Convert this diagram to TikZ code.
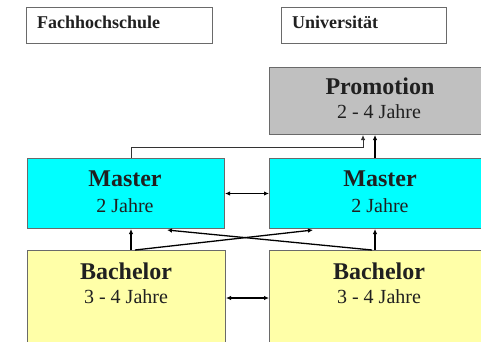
\documentclass[tikz,border=0pt]{standalone}
\usepackage{fontspec}
\setmainfont{Liberation Serif}
\usetikzlibrary{arrows.meta,calc}
\definecolor{cyanbox}{HTML}{00FFFF}
\definecolor{yellowbox}{HTML}{FFFFA8}
\definecolor{graybox}{HTML}{C0C0C0}
\definecolor{edge}{HTML}{6A6A6A}
\definecolor{txt}{HTML}{202020}
\begin{document}
\begin{tikzpicture}[x=1pt,y=-1pt,
  box/.style={draw=edge, line width=1pt, inner sep=0pt, anchor=north west},
  head/.style={anchor=base west, inner sep=0pt, text=txt, font=\fontsize{18}{20}\selectfont\bfseries},
  title/.style={anchor=base, inner sep=0pt, text=txt, font=\fontsize{24}{28}\selectfont\bfseries},
  sub/.style={anchor=base, inner sep=0pt, text=txt, font=\fontsize{20}{24}\selectfont},
  arr/.style={line width=1.3pt, -{Latex[length=5pt,width=4.5pt]}},
  darr/.style={line width=1.2pt, {Latex[length=5pt,width=4.5pt]}-{Latex[length=5pt,width=4.5pt]}},
  thinarr/.style={line width=0.8pt, draw=black!80, -{Latex[length=5pt,width=4.5pt]}}]
\useasboundingbox (0,0) rectangle (481,341);
\clip (0,0) rectangle (481,341);
% header boxes
\node[box, fill=white, minimum width=186pt, minimum height=36pt] (fh) at (26,7) {};
\node[box, fill=white, minimum width=165pt, minimum height=36pt] (uni) at (281,7) {};
\node[head] (fht) at (37,28) {Fachhochschule};
\node[head] (unit) at (292,28) {Universität};
% promotion
\node[box, fill=graybox, minimum width=221pt, minimum height=67pt] (pr) at (269,67) {};
\node[title] (prt) at (380,94) {Promotion};
\node[sub] (prs) at (379,118) {2 - 4 Jahre};
% masters
\node[box, fill=cyanbox, minimum width=197pt, minimum height=70pt] (ml) at (27,158) {};
\node[box, fill=cyanbox, minimum width=221pt, minimum height=70pt] (mr) at (269,158) {};
\node[title] (mlt) at (125,186) {Master};
\node[sub] (mls) at (125,212) {2 Jahre};
\node[title] (mrt) at (380,186) {Master};
\node[sub] (mrs) at (380,212) {2 Jahre};
% bachelors
\node[box, fill=yellowbox, minimum width=198pt, minimum height=95pt] (bl) at (27,250) {};
\node[box, fill=yellowbox, minimum width=221pt, minimum height=95pt] (br) at (269,250) {};
\node[title] (blt) at (126,279) {Bachelor};
\node[sub] (bls) at (126,303) {3 - 4 Jahre};
\node[title] (brt) at (379,279) {Bachelor};
\node[sub] (brs) at (379,303) {3 - 4 Jahre};
% connectors to promotion
\coordinate (a) at ($(ml.north west)+(104,0)$);
\coordinate (b) at ($(pr.south west)+(94,0)$);
\draw[thinarr] (a) -- ++(0,-11) -| (b);
\draw[arr] ($(mr.north west)+(106,0)$) -- ($(pr.south west)+(106,0)$);
% master exchange
\draw[darr] (ml.east) -- (mr.west);
\draw[darr] (bl.east) -- (br.west);
% bachelor to master
\draw[arr] ($(bl.north west)+(104,0)$) -- ($(ml.south west)+(104,0)$);
\draw[arr] ($(br.north west)+(106,0)$) -- ($(mr.south west)+(106,0)$);
\draw[arr] ($(bl.north west)+(108,0)$) -- ($(mr.south west)+(44,1)$);
\draw[arr] ($(br.north west)+(103,0)$) -- ($(ml.south west)+(140,1)$);
\end{tikzpicture}
\end{document}
